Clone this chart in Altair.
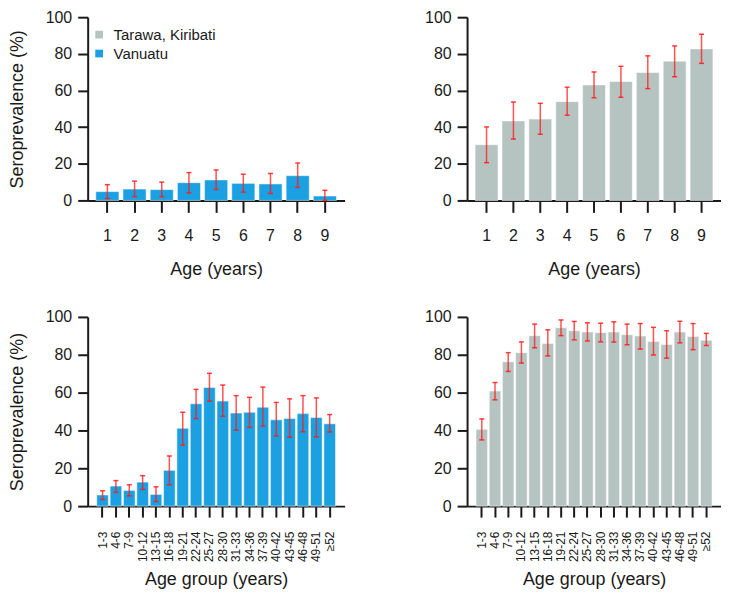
import altair as alt
import pandas as pd

# ---------------- data ----------------
ages = ["1", "2", "3", "4", "5", "6", "7", "8", "9"]
van_child = [4.8, 6.2, 5.9, 9.7, 11.2, 9.3, 9.0, 13.5, 2.4]
van_child_lo = [1.0, 2.1, 2.1, 4.1, 6.0, 4.5, 3.8, 7.1, 0.0]
van_child_hi = [8.6, 10.5, 10.0, 15.2, 16.6, 14.3, 14.7, 20.4, 5.5]

kir_child = [30.4, 43.4, 44.4, 53.9, 63.0, 64.9, 69.8, 76.0, 82.7]
kir_child_lo = [20.6, 33.5, 36.1, 46.5, 56.0, 56.3, 61.0, 67.5, 74.8]
kir_child_hi = [40.1, 53.7, 53.0, 61.8, 70.1, 73.2, 78.9, 84.3, 90.7]

groups = ["1-3", "4-6", "7-9", "10-12", "13-15", "16-18", "19-21", "22-24", "25-27",
          "28-30", "31-33", "34-36", "37-39", "40-42", "43-45", "46-48", "49-51", "≥52"]
van_adult = [5.9, 10.6, 8.3, 12.7, 6.2, 18.9, 41.1, 54.1, 62.7, 55.5, 49.2, 49.6, 52.3,
             45.6, 46.3, 48.9, 46.8, 43.5]
van_adult_lo = [3.5, 7.3, 5.4, 8.8, 2.4, 11.3, 32.2, 46.3, 55.5, 47.5, 40.2, 41.6, 42.3,
                37.1, 36.4, 39.3, 36.6, 39.2]
van_adult_hi = [8.1, 13.5, 11.3, 16.1, 10.2, 26.5, 49.6, 61.7, 70.2, 64.0, 58.4, 57.5, 62.9,
                54.8, 56.7, 58.4, 57.2, 48.4]

kir_adult = [40.6, 60.8, 76.3, 81.1, 90.1, 86.0, 94.3, 92.7, 92.0, 91.7, 92.0, 90.6, 89.9,
             87.0, 85.4, 92.0, 89.6, 87.7]
kir_adult_lo = [35.0, 56.2, 71.2, 75.6, 83.7, 79.4, 90.1, 87.9, 87.3, 86.8, 86.7, 85.3, 83.0,
                79.9, 78.2, 86.3, 82.7, 84.9]
kir_adult_hi = [46.1, 65.3, 81.1, 86.8, 96.2, 93.2, 98.4, 97.6, 96.9, 96.7, 97.4, 96.2, 96.5,
                94.5, 92.7, 97.7, 96.5, 91.3]

countries = ["Tarawa, Kiribati", "Vanuatu"]
y_ticks = [0, 20, 40, 60, 80, 100]

# ---------------- style ----------------
BLUE = "#1ba1e2"
GRAY = "#b5c3c1"
RED = "#ff1a1a"
INK = "#1a1a1a"
FONT = "Liberation Sans"


def panel(cats, vals, lo, hi, country, xtitle, show_ytitle, show_legend, rotated,
          width, height):
    df = pd.DataFrame({"cat": cats, "val": vals, "lo": lo, "hi": hi,
                       "country": [country] * len(cats)})
    common = dict(domainWidth=2, tickWidth=2, domainColor=INK, tickColor=INK,
                  labelOverlap=False, grid=False)
    if rotated:
        scale_x = alt.Scale(paddingInner=0.13, paddingOuter=0.68)
        x_axis = alt.Axis(title=xtitle, labelAngle=-90, labelFontSize=12,
                          labelPadding=14, tickSize=11, titlePadding=9, **common)
    else:
        scale_x = alt.Scale(paddingInner=0.15, paddingOuter=0.3)
        x_axis = alt.Axis(title=xtitle, labelAngle=0, labelFontSize=16,
                          labelPadding=15, tickSize=12, titlePadding=17, **common)
    if show_ytitle:
        y_axis = alt.Axis(title="Seroprevalence (%)", values=y_ticks, tickSize=10,
                          labelPadding=6, titlePadding=19, labelFontSize=16, **common)
    else:
        y_axis = alt.Axis(title=None, values=y_ticks, tickSize=10, labelPadding=6,
                          labelFontSize=16, **common)
    y_scale = alt.Scale(domain=[0, 100], nice=False)

    def X():
        return alt.X("cat:N", sort=cats, scale=scale_x, axis=x_axis)

    def Y(field):
        return alt.Y(field, scale=y_scale, axis=y_axis)

    if show_legend:
        legend = alt.Legend(title=None, orient="none", legendX=4, legendY=10,
                            symbolType="square", symbolSize=60, labelFontSize=15,
                            labelFont=FONT, labelColor=INK, labelOffset=7,
                            rowPadding=3, symbolStrokeWidth=0)
    else:
        legend = None
    color = alt.Color("country:N",
                      scale=alt.Scale(domain=countries, range=[GRAY, BLUE]),
                      legend=legend)

    bars = alt.Chart().mark_bar(stroke="white", strokeWidth=1, strokeOpacity=0.5).encode(
        x=X(), y=Y("val:Q"), color=color)
    rule = alt.Chart().mark_rule(color=RED, strokeWidth=1.5, opacity=0.75).encode(
        x=X(), y=Y("lo:Q"), y2="hi:Q")
    cap_lo = alt.Chart().mark_tick(color=RED, size=5, thickness=1.5, opacity=0.85).encode(
        x=X(), y=Y("lo:Q"))
    cap_hi = alt.Chart().mark_tick(color=RED, size=5, thickness=1.5, opacity=0.85).encode(
        x=X(), y=Y("hi:Q"))
    return alt.layer(bars, rule, cap_lo, cap_hi, data=df).properties(width=width, height=height)


p1 = panel(ages, van_child, van_child_lo, van_child_hi, "Vanuatu",
           "Age (years)", True, True, False, 258, 184)
p2 = panel(ages, kir_child, kir_child_lo, kir_child_hi, "Tarawa, Kiribati",
           "Age (years)", False, False, False, 255, 184)
p3 = panel(groups, van_adult, van_adult_lo, van_adult_hi, "Vanuatu",
           "Age group (years)", True, False, True, 258, 190)
p4 = panel(groups, kir_adult, kir_adult_lo, kir_adult_hi, "Tarawa, Kiribati",
           "Age group (years)", False, False, True, 255, 190)

chart = alt.concat(p1, p2, p3, p4, columns=2, spacing={"row": 31, "column": 80}).resolve_scale(
    color="independent", x="independent", y="independent"
).properties(padding=0).configure_view(stroke=None).configure_axis(
    grid=False, labelFont=FONT, titleFont=FONT, labelColor=INK, titleColor=INK,
    labelFontSize=16, titleFontSize=18, titleFontWeight="normal"
)

chart.save("out.html", embed_options={"renderer": "svg", "actions": False})
